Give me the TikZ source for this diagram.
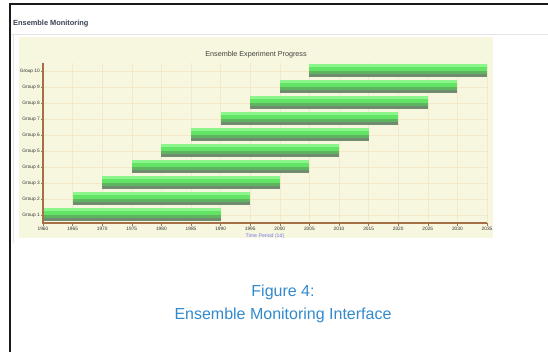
\documentclass[tikz,border=0pt]{standalone}
\usepackage{fontspec}
\setmainfont{Liberation Sans}
\usetikzlibrary{positioning}
\definecolor{panelBeige}{RGB}{247,246,222}
\definecolor{gridTan}{RGB}{244,232,202}
\definecolor{axisBrown}{RGB}{165,112,72}
\definecolor{barLight}{RGB}{140,245,140}
\definecolor{barGreen}{RGB}{100,228,100}
\definecolor{barMid}{RGB}{95,180,95}
\definecolor{barDark}{RGB}{112,140,112}
\definecolor{captionBlue}{RGB}{50,138,205}
\definecolor{periodBlue}{RGB}{120,120,235}
\definecolor{headGray}{RGB}{55,65,80}
\tikzset{
	ticklabel/.style={font=\fontsize{4.8}{5.5}\selectfont, text=black!80, inner sep=1pt},
	gridline/.style={draw=gridTan, line width=0.5pt},
	axisline/.style={draw=axisBrown, line width=1.1pt},
	captiontext/.style={font=\fontsize{16}{19}\selectfont, text=captionBlue, inner sep=0pt}
}
\begin{document}
\begin{tikzpicture}[x=1pt, y=-1pt]
	\useasboundingbox (0,0) rectangle (548,352);
	% page frame and header
	\draw[black!90, line width=2pt] (10,352) -- (10,4) -- (548,4);
	\draw[black!10, line width=0.8pt] (11,34) -- (548,34);
	\draw[black!10, line width=0.6pt] (13,34) -- (13,243);
	\node[anchor=west, inner sep=0pt, text=headGray,
		font=\fontsize{7.4}{9}\selectfont\bfseries] (head) at (13,24) {Ensemble Monitoring};
	% chart panel
	\fill[panelBeige] (19,37) rectangle (493,238);
	\node[font=\fontsize{7.2}{8.5}\selectfont, text=black!75] (title) at (256,55) {Ensemble Experiment Progress};
	% grid
	\foreach \i in {1,...,15}
		\draw[gridline] (43+\i*29.6,63) -- (43+\i*29.6,223);
	\foreach \k in {1,...,10}
		\draw[gridline] (43,231-16*\k) -- (487,231-16*\k);
	% bars
	\foreach \k [evaluate=\k as \xa using 43+(\k-1)*29.6,
				evaluate=\k as \yc using 231-16*\k] in {1,...,10} {
		\fill[barLight] (\xa,\yc-6.5) rectangle (\xa+177.6,\yc-4.3);
		\fill[barGreen] (\xa,\yc-4.3) rectangle (\xa+177.6,\yc);
		\fill[barMid] (\xa,\yc) rectangle (\xa+177.6,\yc+2.6);
		\fill[barDark] (\xa,\yc+2.6) rectangle (\xa+177.6,\yc+6.5);
		\draw[axisBrown, line width=0.5pt] (41,\yc) -- (43,\yc);
		\node[ticklabel, anchor=east] (g\k) at (41,\yc) {Group \k};
	}
	% axes
	\draw[axisline] (43,63) -- (43,223) -- (487,223);
	\foreach \i [evaluate=\i as \yr using int(1960+5*\i)] in {0,...,15} {
		\draw[axisBrown, line width=0.5pt] (43+\i*29.6,223) -- (43+\i*29.6,226);
		\node[ticklabel] (yr\i) at (43+\i*29.6,228.5) {\yr};
	}
	\node[font=\fontsize{5.2}{6}\selectfont, text=periodBlue, inner sep=0pt] (period) at (265,236) {Time Period (1d)};
	% caption
	\node[captiontext] (fig) at (283,292) {Figure 4:};
	\node[captiontext, below=8pt of fig] (cap) {Ensemble Monitoring Interface};
\end{tikzpicture}
\end{document}
